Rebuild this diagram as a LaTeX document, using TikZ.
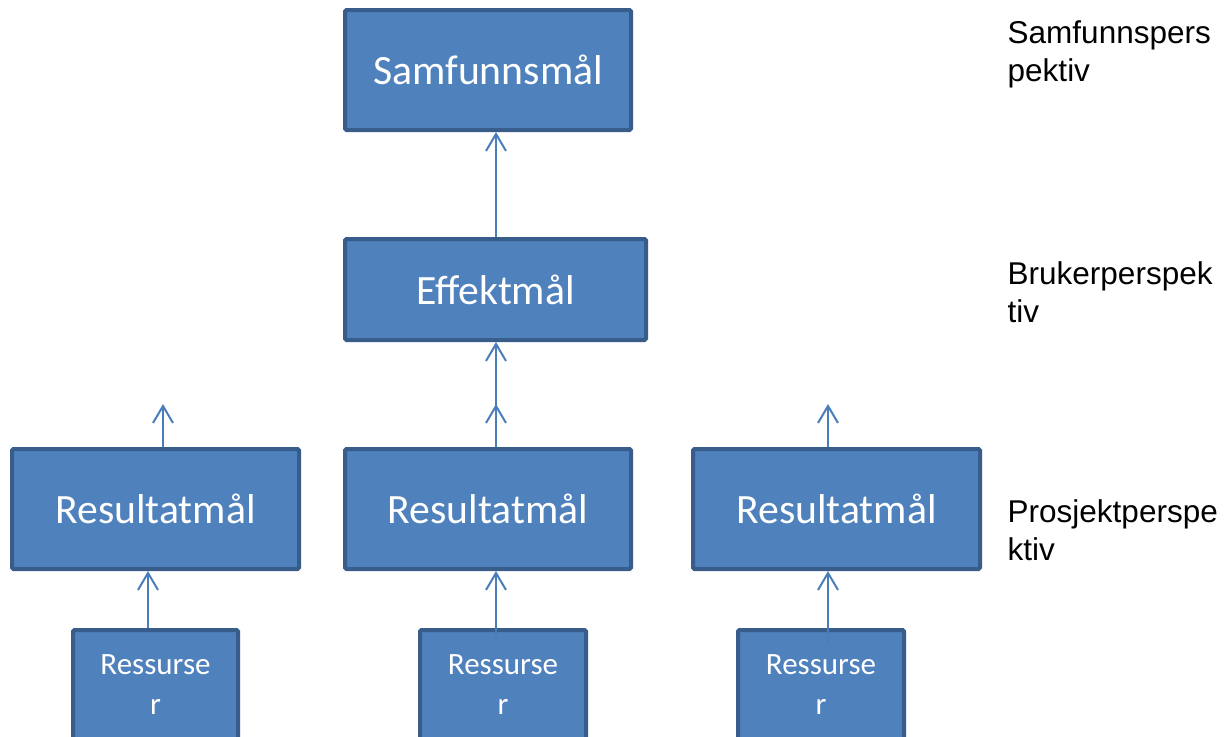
\documentclass[tikz,border=0pt]{standalone}
\usepackage{fontspec}
\setmainfont{Liberation Sans}
\newfontfamily\boxfont{Carlito}
\usetikzlibrary{arrows.meta}
\definecolor{boxfill}{HTML}{4F81BD}
\definecolor{boxline}{HTML}{385D8A}
\definecolor{arrowc}{HTML}{4A7EBB}
\begin{document}
\begin{tikzpicture}[x=1pt,y=-1pt,
  goal/.style={draw=boxline, fill=boxfill, line width=4pt, rounded corners=1.5pt,
    text=white, font=\boxfont\fontsize{41.7}{50}\selectfont, inner sep=0pt},
  resbox/.style={goal, font=\boxfont\fontsize{31}{40}\selectfont, align=center,
    minimum width=166pt, minimum height=116pt, text depth=7pt},
  persp/.style={font=\fontsize{31.5}{38}\selectfont, align=left, anchor=north west, inner sep=0pt},
  arr/.style={draw=arrowc, line width=2pt, -{Straight Barb[length=17pt,width=20pt]}}]
\useasboundingbox (0,0) rectangle (1230,736);
\fill[white] (0,0) rectangle (1230,736);

% goal boxes
\node[goal, minimum width=286pt, minimum height=120pt] (sam) at (488,70) {Samfunnsmål};
\node[goal, minimum width=301pt, minimum height=101pt] (eff) at (495.5,289.5) {Effektmål};
\node[goal, minimum width=287pt, minimum height=120pt] (resA) at (155.5,509) {Resultatmål};
\node[goal, minimum width=286pt, minimum height=120pt] (resB) at (488,509) {Resultatmål};
\node[goal, minimum width=287pt, minimum height=120pt] (resC) at (836.5,509) {Resultatmål};

% resource boxes
\node[resbox, minimum width=165pt] (rsA) at (155.5,688) {Ressurse\\r};
\node[resbox] (rsB) at (503,688) {Ressurse\\r};
\node[resbox] (rsC) at (821,688) {Ressurse\\r};

% perspective labels
\node[persp] (lS) at (1007.5,21) {Samfunnspers\\pektiv};
\node[persp] (lB) at (1007.5,261) {Brukerperspek\\tiv};
\node[persp] (lP) at (1007.5,499) {Prosjektperspe\\ktiv};

% coordinates for connector columns and free ends
\coordinate (xL) at (148,0);
\coordinate (xA) at (163,0);
\coordinate (xM) at (496,0);
\coordinate (xC) at (828,0);
\coordinate (tA) at (163,404);
\coordinate (tB) at (496,404);
\coordinate (tC) at (828,404);
\coordinate (sB) at (496,643);
\coordinate (sC) at (828,645);

% connectors
\draw[arr] (eff.north -| xM) -- (sam.south -| xM);
\draw[arr] (resB.north -| xM) -- (eff.south -| xM);
\draw[arr] (resB.north -| xM) -- (tB);
\draw[arr] (resA.north -| xA) -- (tA);
\draw[arr] (resC.north -| xC) -- (tC);
\draw[arr] (rsA.north -| xL) -- (resA.south -| xL);
\draw[arr] (sB) -- (resB.south -| xM);
\draw[arr] (sC) -- (resC.south -| xC);
\end{tikzpicture}
\end{document}
